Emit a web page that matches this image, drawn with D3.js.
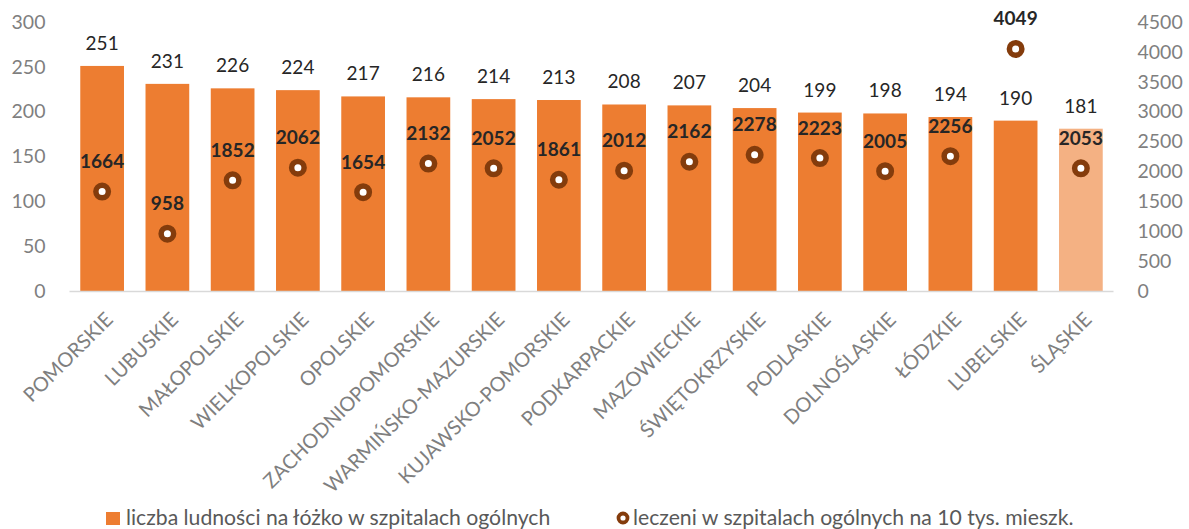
<!DOCTYPE html>
<html>
<head>
<meta charset="utf-8">
<script src="https://cdn.jsdelivr.net/npm/d3@7"></script>
<style>
  html, body { margin: 0; padding: 0; background: #fff; }
  svg { display: block; font-family: Lato, "Open Sans", sans-serif; }
</style>
</head>
<body>
<svg id="chart" width="1189" height="529"></svg>
<script>
// Voivodeships, sorted by population per hospital bed
const categories = ["POMORSKIE", "LUBUSKIE", "MAŁOPOLSKIE", "WIELKOPOLSKIE", "OPOLSKIE",
  "ZACHODNIOPOMORSKIE", "WARMIŃSKO-MAZURSKIE", "KUJAWSKO-POMORSKIE", "PODKARPACKIE",
  "MAZOWIECKIE", "ŚWIĘTOKRZYSKIE", "PODLASKIE", "DOLNOŚLĄSKIE", "ŁÓDZKIE", "LUBELSKIE", "ŚLĄSKIE"];
const peoplePerBed = [251, 231, 226, 224, 217, 216, 214, 213, 208, 207, 204, 199, 198, 194, 190, 181];
const treatedPer10k = [1664, 958, 1852, 2062, 1654, 2132, 2052, 1861, 2012, 2162, 2278, 2223, 2005, 2256, 4049, 2053];
const leftTicks = [0, 50, 100, 150, 200, 250, 300];
const rightTicks = [0, 500, 1000, 1500, 2000, 2500, 3000, 3500, 4000, 4500];
const legendLabels = ["liczba ludności na łóżko w szpitalach ogólnych", "leczeni w szpitalach ogólnych na 10 tys. mieszk."];

const svg = d3.select("#chart");
const plot = { left: 69.5, right: 1113.5, top: 22, bottom: 291 };

const x = d3.scaleBand().domain(categories).range([plot.left, plot.right]).paddingInner(0.33).paddingOuter(0.165);
const yL = d3.scaleLinear().domain([0, 300]).range([plot.bottom, plot.top]);
const yR = d3.scaleLinear().domain([0, 4500]).range([plot.bottom, plot.top]);

const barColor = "#ed7d31", highlight = "#f4b183", markerColor = "#843c0c";
const axisText = "#7f7f7f";

// Left axis
const gL = svg.append("g").attr("transform", `translate(${plot.left},0)`)
  .call(d3.axisLeft(yL).tickValues(leftTicks).tickSize(0).tickPadding(24));
gL.select(".domain").remove();
gL.selectAll("text").attr("fill", axisText).style("font-size", "19.5px").style("font-family", "Lato, sans-serif");

// Right axis
const gR = svg.append("g").attr("transform", `translate(${plot.right},0)`)
  .call(d3.axisRight(yR).tickValues(rightTicks).tickFormat(d3.format("d")).tickSize(0).tickPadding(24));
gR.select(".domain").remove();
gR.selectAll("text").attr("fill", axisText).style("font-size", "19.5px").style("font-family", "Lato, sans-serif");

// Bars
svg.append("g").selectAll("rect").data(categories).join("rect")
  .attr("x", d => x(d))
  .attr("width", x.bandwidth())
  .attr("y", (d, i) => yL(peoplePerBed[i]))
  .attr("height", (d, i) => yL(0) - yL(peoplePerBed[i]))
  .attr("fill", (d, i) => i === categories.length - 1 ? highlight : barColor);

// Baseline
svg.append("line").attr("x1", plot.left).attr("x2", plot.right)
  .attr("y1", plot.bottom + 0.5).attr("y2", plot.bottom + 0.5)
  .attr("stroke", "#d9d9d9").attr("stroke-width", 1.5);

// Bar value labels
svg.append("g").selectAll("text").data(categories).join("text")
  .attr("x", d => x(d) + x.bandwidth() / 2)
  .attr("y", (d, i) => yL(peoplePerBed[i]) - 16)
  .attr("text-anchor", "middle")
  .attr("fill", "#262626")
  .style("font-size", "19px")
  .text((d, i) => peoplePerBed[i]);

// Markers
svg.append("g").selectAll("circle").data(categories).join("circle")
  .attr("cx", d => x(d) + x.bandwidth() / 2)
  .attr("cy", (d, i) => yR(treatedPer10k[i]))
  .attr("r", 6.25)
  .attr("fill", "#fff")
  .attr("stroke", markerColor)
  .attr("stroke-width", 5.5);

// Marker value labels
svg.append("g").selectAll("text").data(categories).join("text")
  .attr("x", d => x(d) + x.bandwidth() / 2)
  .attr("y", (d, i) => yR(treatedPer10k[i]) - 23.5)
  .attr("text-anchor", "middle")
  .attr("fill", "#262626")
  .style("font-size", "19px")
  .style("font-weight", "bold")
  .text((d, i) => treatedPer10k[i]);

// Category labels, rotated
svg.append("g").selectAll("text").data(categories).join("text")
  .attr("transform", d => `translate(${x(d) + x.bandwidth() / 2 + 7},${plot.bottom + 25}) rotate(-45)`)
  .attr("text-anchor", "end")
  .attr("dy", "0.35em")
  .attr("fill", axisText)
  .style("font-size", "20px")
  .text(d => d);

// Legend
const lg = svg.append("g").style("font-size", "21.2px").attr("fill", "#595959");
lg.append("rect").attr("x", 106).attr("y", 512).attr("width", 14).attr("height", 13).attr("fill", barColor);
lg.append("text").attr("x", 126).attr("y", 525).text(legendLabels[0]);
lg.append("circle").attr("cx", 623).attr("cy", 518).attr("r", 4.5).attr("fill", "#fff")
  .attr("stroke", markerColor).attr("stroke-width", 3.8);
lg.append("text").attr("x", 633).attr("y", 525).text(legendLabels[1]);
</script>
</body>
</html>
